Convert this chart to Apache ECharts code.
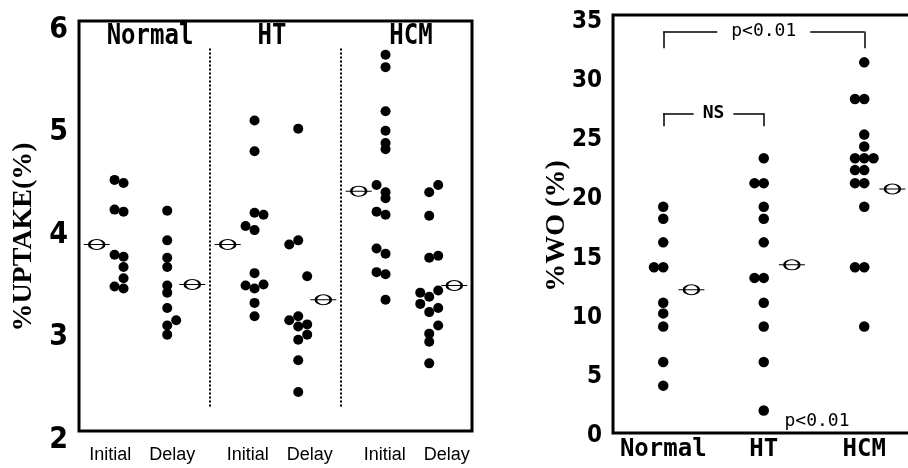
<!DOCTYPE html>
<html><head><meta charset="utf-8">
<script src="https://cdn.jsdelivr.net/npm/echarts@6/dist/echarts.min.js"></script>
<style>html,body{margin:0;padding:0;background:#fff}#c{width:908px;height:468px}</style>
</head><body><div id="c"></div>
<script>
// ---------- Left panel: %UPTAKE(%) ----------
const uptakeGroups = ['Normal', 'HT', 'HCM'];
const uptakeTicks = ['Initial', 'Delay', 'Initial', 'Delay', 'Initial', 'Delay'];
const normalInitial = [4.45, 4.42, 4.16, 4.14, 3.72, 3.70, 3.60, 3.49, 3.41, 3.39];
const normalInitialCol = [-1, 0, -1, 0, -1, 0, 0, 0, -1, 0];
const normalDelay = [4.15, 3.86, 3.69, 3.60, 3.42, 3.35, 3.20, 3.08, 3.03, 2.94];
const normalDelayCol = [0, 0, 0, 0, 0, 0, 0, 1, 0, 0];
const htInitial = [5.03, 4.73, 4.13, 4.11, 4.00, 3.96, 3.54, 3.43, 3.42, 3.39, 3.25, 3.12];
const htInitialCol = [0, 0, 0, 1, -1, 0, 0, 1, -1, 0, 0, 0];
const htDelay = [4.95, 3.86, 3.82, 3.51, 3.12, 3.08, 3.04, 3.02, 2.94, 2.89, 2.69, 2.38];
const htDelayCol = [0, 0, -1, 1, 0, -1, 1, 0, 1, 0, 0, 0];
const hcmInitial = [5.67, 5.55, 5.12, 4.93, 4.81, 4.75, 4.40, 4.33, 4.27, 4.14, 4.11, 3.78, 3.73, 3.55, 3.53, 3.28];
const hcmInitialCol = [0, 0, 0, 0, 0, 0, -1, 0, 0, -1, 0, -1, 0, -1, 0, 0];
const hcmDelay = [4.40, 4.33, 4.10, 3.71, 3.69, 3.37, 3.35, 3.31, 3.24, 3.20, 3.16, 3.03, 2.95, 2.87, 2.66];
const hcmDelayCol = [1, 0, 0, 1, 0, 1, -1, 0, -1, 1, 0, 1, 0, 0, 0];
const uptakeMeans = [3.82, 3.43, 3.82, 3.28, 4.34, 3.42];
const uptakeMin = 2, uptakeMax = 6, uptakeStep = 1;
const uptakeSeparators = [1.5, 3.5];
const uptakeSeparatorSpan = [2.24, 5.75];

// ---------- Right panel: %WO (%) ----------
const woGroups = ['Normal', 'HT', 'HCM'];
const woNormal = [19.1, 18.1, 16.1, 14.0, 14.0, 11.0, 10.1, 9.0, 6.0, 4.0];
const woNormalCol = [0, 0, 0, -1, 0, 0, 0, 0, 0, 0];
const woHT = [23.2, 21.1, 21.1, 19.1, 18.1, 16.1, 13.1, 13.1, 11.0, 9.0, 6.0, 1.9];
const woHTCol = [0, -1, 0, 0, 0, 0, -1, 0, 0, 0, 0, 0];
const woHCM = [31.3, 28.2, 28.2, 25.2, 24.2, 23.2, 23.2, 23.2, 22.2, 22.2, 21.1, 21.1, 19.1, 14.0, 14.0, 9.0];
const woHCMCol = [0, -1, 0, 0, 0, -1, 0, 1, -1, 0, -1, 0, 0, -1, 0, 0];
const woMeans = [12.1, 14.2, 20.6];
const woMin = 0, woMax = 35.3, woStep = 5;
const woBrackets = [
  { from: 0, to: 2, top: 33.9, leg: 32.5, text: 'p<0.01' },
  { from: 0, to: 1, top: 27.0, leg: 25.9, text: 'NS' }
];

// ---------- build ----------
const narrow = "'Liberation Sans Narrow','DejaVu Sans Condensed','Arial Narrow',sans-serif";
const sans = "'Liberation Sans',Arial,sans-serif";
const mono = "'DejaVu Sans Mono','Liberation Mono',monospace";
const serif = "'Liberation Serif','DejaVu Serif',serif";
const meanSymbol = 'path://M0,5L26,5M5.5,5a7.5,5 0 1,0 15,0a7.5,5 0 1,0 -15,0';

const leftSets = [
  [normalInitial, normalInitialCol], [normalDelay, normalDelayCol],
  [htInitial, htInitialCol], [htDelay, htDelayCol],
  [hcmInitial, hcmInitialCol], [hcmDelay, hcmDelayCol]
];
const leftShift = [0.18, -0.153];
const leftLane = 0.137;
const leftMeanShift = [-0.23, 0.23];
const leftDots = [];
leftSets.forEach(([vals, cols], i) => {
  vals.forEach((v, k) => leftDots.push([i + leftShift[i % 2] + cols[k] * leftLane, v]));
});
const leftMeanPts = uptakeMeans.map((v, i) => [i + leftMeanShift[i % 2], v]);

const rightSets = [[woNormal, woNormalCol], [woHT, woHTCol], [woHCM, woHCMCol]];
const rightLane = 0.092;
const rightDots = [];
rightSets.forEach(([vals, cols], i) => {
  vals.forEach((v, k) => rightDots.push([i + cols[k] * rightLane, v]));
});
const rightMeanPts = woMeans.map((v, i) => [i + 0.28, v]);

const bracketLines = [];
woBrackets.forEach(b => {
  bracketLines.push([{ coord: [b.from, b.leg] }, { coord: [b.from, b.top] }]);
  bracketLines.push([{ coord: [b.from, b.top], label: { show: true, formatter: b.text,
    position: 'insideMiddle', backgroundColor: '#fff', padding: b.text === 'NS' ? [0, 9] : [0, 14],
    color: '#000', fontFamily: mono, fontSize: 18, fontWeight: b.text === 'NS' ? 'bold' : 'normal', distance: 0 } },
    { coord: [b.to, b.top] }]);
  bracketLines.push([{ coord: [b.to, b.top] }, { coord: [b.to, b.leg] }]);
});

const leftLabelPad = [[0, 3, 0, 0], [0, 10, 0, 0], [0, 0, 0, 10], [0, 0, 0, 3], [0, 0, 0, 22], [0, 0, 0, 15]];

const chart = echarts.init(document.getElementById('c'), null, { renderer: 'canvas' });
chart.setOption({
  animation: false,
  backgroundColor: '#fff',
  grid: [
    { left: 79, top: 21, width: 393, height: 410, show: true, borderColor: '#000', borderWidth: 3, outerBoundsMode: 'none', containLabel: false },
    { left: 613, top: 15, width: 301.5, height: 418, show: true, borderColor: '#000', borderWidth: 3, outerBoundsMode: 'none', containLabel: false }
  ],
  xAxis: [
    { gridIndex: 0, type: 'category', data: uptakeTicks.map((t, i) => ({ value: t, textStyle: { padding: leftLabelPad[i] } })),
      axisLine: { show: false }, axisTick: { show: false }, splitLine: { show: false },
      axisLabel: { interval: 0, hideOverlap: false, color: '#000', fontFamily: sans, fontSize: 18, margin: 15 } },
    { gridIndex: 0, type: 'value', min: -0.5, max: 5.5, show: false },
    { gridIndex: 1, type: 'category', data: woGroups,
      axisLine: { show: false }, axisTick: { show: false }, splitLine: { show: false },
      axisLabel: { interval: 0, hideOverlap: false, color: '#000', fontFamily: mono, fontWeight: 'bold', fontSize: 24, margin: 5 } },
    { gridIndex: 1, type: 'value', min: -0.5, max: 2.5, show: false }
  ],
  yAxis: [
    { gridIndex: 0, type: 'value', min: uptakeMin, max: uptakeMax, interval: uptakeStep,
      axisLine: { show: false }, axisTick: { show: false }, splitLine: { show: false },
      axisLabel: { color: '#000', margin: 11, formatter: '{d|{value}}',
        rich: { d: { fontFamily: narrow, fontWeight: 'bold', fontSize: 30, color: '#000', padding: [18, 0, 0, 0] } } } },
    { gridIndex: 1, type: 'value', min: woMin, max: woMax, interval: woStep,
      axisLine: { show: false }, axisTick: { show: false }, splitLine: { show: false },
      axisLabel: { color: '#000', margin: 11, showMaxLabel: false, formatter: '{d|{value}}',
        rich: { d: { fontFamily: narrow, fontWeight: 'bold', fontSize: 24, color: '#000', padding: [6, 0, 0, 0] } } } }
  ],
  series: [
    { type: 'scatter', xAxisIndex: 1, yAxisIndex: 0, data: leftDots, symbolSize: 10,
      itemStyle: { color: '#000', opacity: 1 }, silent: true,
      markLine: { silent: true, symbol: ['none', 'none'], label: { show: false },
        lineStyle: { color: '#000', width: 2, type: [2, 2] },
        data: uptakeSeparators.map(x => [{ coord: [x, uptakeSeparatorSpan[0]] }, { coord: [x, uptakeSeparatorSpan[1]] }]) } },
    { type: 'scatter', xAxisIndex: 1, yAxisIndex: 0, data: leftMeanPts, symbol: meanSymbol, symbolSize: [26, 10],
      itemStyle: { color: '#fff', borderColor: '#000', borderWidth: 1.6, opacity: 1 }, silent: true },
    { type: 'scatter', xAxisIndex: 3, yAxisIndex: 1, data: rightDots, symbolSize: 10.5,
      itemStyle: { color: '#000', opacity: 1 }, silent: true,
      markLine: { silent: true, symbol: ['none', 'none'], label: { show: false },
        lineStyle: { color: '#000', width: 1.5, type: 'solid' }, data: bracketLines } },
    { type: 'scatter', xAxisIndex: 3, yAxisIndex: 1, data: rightMeanPts, symbol: meanSymbol, symbolSize: [26, 10],
      itemStyle: { color: '#fff', borderColor: '#000', borderWidth: 1.6, opacity: 1 }, silent: true }
  ],
  graphic: [
    { type: 'text', x: 24, y: 237, rotation: Math.PI / 2,
      style: { text: '%UPTAKE(%)', fontFamily: serif, fontWeight: 'bold', fontSize: 28, fill: '#000', align: 'center', verticalAlign: 'middle' } },
    { type: 'text', x: 557, y: 226, rotation: Math.PI / 2,
      style: { text: '%WO (%)', fontFamily: serif, fontWeight: 'bold', fontSize: 28, fill: '#000', align: 'center', verticalAlign: 'middle' } },
    { type: 'text', x: 150, y: 37, scaleY: 1.15, style: { text: uptakeGroups[0], fontFamily: mono, fontWeight: 'bold', fontSize: 24, fill: '#000', align: 'center', verticalAlign: 'middle' } },
    { type: 'text', x: 272, y: 37, scaleY: 1.15, style: { text: uptakeGroups[1], fontFamily: mono, fontWeight: 'bold', fontSize: 24, fill: '#000', align: 'center', verticalAlign: 'middle' } },
    { type: 'text', x: 411, y: 37, scaleY: 1.15, style: { text: uptakeGroups[2], fontFamily: mono, fontWeight: 'bold', fontSize: 24, fill: '#000', align: 'center', verticalAlign: 'middle' } },
    { type: 'text', x: 817, y: 421, style: { text: 'p<0.01', fontFamily: mono, fontSize: 18, fill: '#000', align: 'center', verticalAlign: 'middle' } }
  ]
});
</script></body></html>
